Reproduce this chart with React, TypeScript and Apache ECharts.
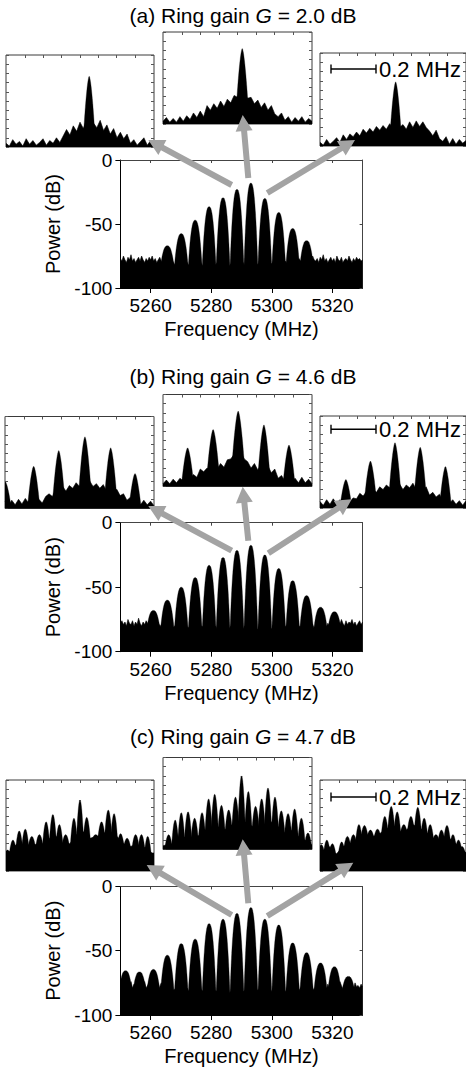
import React, { useEffect, useRef } from "react";
import * as echarts from "echarts";

// ---------- main spectra (frequency grid 5250 .. 5330 MHz, step 0.5 MHz) ----------
const FREQ_MIN = 5250;
const FREQ_MAX = 5330;
const FREQ_STEP = 0.5;
const FREQ_TICKS = [5260, 5280, 5300, 5320];

const FLOOR_A = [
  -77, -79, -75, -78, -80, -76, -78, -74, -79, -77, -80, -78, -76, -79, -75, -78, -80, -77, -79, -76,
  -78, -75, -79, -77, -80, -78, -76, -79, -81, -78, -80, -77, -79, -81, -78, -80, -82, -79, -81, -80,
  -82, -80, -81, -83, -80, -82, -81, -83, -80, -82, -81, -83, -82, -80, -83, -81, -82, -80, -83, -81,
  -82, -83, -81, -82, -80, -83, -82, -81, -83, -82, -80, -82, -83, -81, -82, -83, -80, -82, -81, -83,
  -82, -80, -83, -81, -82, -83, -81, -82, -80, -83, -82, -81, -83, -82, -80, -82, -81, -83, -82, -80,
  -81, -83, -82, -80, -82, -81, -83, -80, -82, -79, -81, -80, -78, -80, -79, -81, -78, -80, -77, -79,
  -78, -80, -77, -79, -76, -78, -80, -75, -78, -79, -77, -80, -76, -78, -74, -79, -77, -80, -78, -76,
  -79, -77, -80, -75, -78, -79, -76, -80, -78, -77, -79, -75, -78, -80, -77, -79, -76, -78, -77, -79,
  -78,
];
const FLOOR_B = [
  -78, -76, -79, -77, -80, -75, -78, -79, -76, -80, -77, -79, -74, -78, -80, -77, -79, -76, -78, -80,
  -77, -79, -81, -78, -80, -82, -79, -81, -80, -82, -81, -79, -82, -80, -83, -81, -80, -82, -81, -83,
  -81, -83, -82, -80, -82, -81, -83, -82, -80, -83, -81, -82, -83, -81, -80, -82, -83, -81, -82, -80,
  -83, -81, -82, -80, -83, -82, -81, -83, -80, -82, -81, -83, -82, -80, -81, -83, -82, -81, -80, -82,
  -81, -83, -80, -82, -83, -81, -82, -80, -83, -81, -82, -83, -80, -82, -81, -83, -82, -80, -81, -83,
  -82, -80, -83, -81, -82, -80, -83, -82, -81, -80, -82, -81, -83, -80, -82, -81, -79, -82, -80, -81,
  -82, -80, -83, -81, -82, -80, -81, -79, -82, -80, -78, -81, -79, -80, -77, -79, -81, -78, -80, -77,
  -79, -76, -80, -78, -77, -79, -75, -78, -80, -76, -79, -77, -78, -75, -79, -77, -80, -78, -76, -79,
  -77,
];
const FLOOR_C = [
  -76, -79, -73, -78, -75, -80, -77, -74, -79, -76, -78, -72, -77, -80, -75, -78, -74, -79, -77, -75,
  -78, -80, -76, -79, -77, -81, -78, -75, -80, -79, -81, -78, -80, -82, -79, -81, -80, -78, -82, -80,
  -81, -83, -80, -82, -79, -81, -83, -80, -82, -81, -79, -82, -83, -80, -81, -82, -80, -83, -81, -79,
  -82, -80, -83, -81, -82, -79, -81, -83, -80, -82, -81, -80, -83, -82, -79, -81, -82, -80, -83, -81,
  -80, -82, -81, -83, -79, -82, -80, -81, -83, -82, -80, -81, -82, -79, -83, -81, -80, -82, -81, -83,
  -81, -79, -82, -80, -83, -81, -82, -80, -79, -82, -81, -80, -78, -81, -79, -82, -80, -78, -81, -79,
  -80, -82, -79, -81, -78, -80, -77, -79, -81, -78, -76, -80, -77, -79, -75, -78, -80, -76, -79, -77,
  -75, -78, -80, -76, -79, -74, -77, -80, -76, -78, -73, -77, -79, -76, -80, -75, -78, -77, -79, -76,
  -78,
];

// comb lines (centre frequency, MHz; peak power, dB)
const COMB_A_FREQ = [5265.5, 5270.1, 5274.7, 5279.3, 5283.9, 5288.5, 5293.1, 5297.7, 5302.3, 5306.9, 5311.5];
const COMB_A_DB = [-67, -57.5, -47, -36.5, -29.5, -23, -18, -30, -41, -53.5, -63];
const COMB_B_FREQ = [5260.9, 5265.5, 5270.1, 5274.7, 5279.3, 5283.9, 5288.5, 5293.1, 5297.7, 5302.3, 5306.9, 5311.5, 5316.1, 5320.7];
const COMB_B_DB = [-68, -60, -50, -42.5, -33, -27, -21.5, -17.5, -25, -35.5, -45, -56.5, -65.5, -69];
const COMB_C_FREQ = [5251.7, 5256.3, 5260.9, 5265.5, 5270.1, 5274.7, 5279.3, 5283.9, 5288.5, 5293.1, 5297.7, 5302.3, 5306.9, 5311.5, 5316.1, 5320.7, 5325.3];
const COMB_C_DB = [-65.5, -66.5, -64.5, -53.5, -44.5, -41, -29, -25.5, -21, -16.5, -25.5, -30, -44, -51.5, -59.5, -62.5, -70];

// ---------- insets (offset grid -0.33 .. 0.33 MHz, step 0.015 MHz; relative dB) ----------
const OFF_MIN = -0.33;
const OFF_MAX = 0.33;
const OFF_STEP = 0.015;
const OFF_TICKS = [-0.245, -0.163, -0.082, 0, 0.082, 0.163, 0.245];

const A_L_SKIRT = [-48, -49.5, -46, -48.5, -47, -49.5, -45.5, -48.5, -46.5, -49, -47.5, -45.5, -49, -46.5, -48, -45, -47.5, -44, -40.5, -43.5, -38.5, -41.5, -36.5, -40, -35, -34, -37, -39.5, -35.5, -41, -38, -43, -40, -45, -42, -45.5, -43, -48, -46, -49, -47, -45, -49, -46.5, -48];
const A_L_PEAK_OFF = [0.041];
const A_L_PEAK_DB = [-11.5];
const A_M_SKIRT = [-48.5, -46.5, -49, -47, -49, -46, -48.5, -45.5, -47.5, -44, -46.5, -43, -46, -40, -42.5, -39, -41.5, -37.5, -40.5, -36.5, -38.5, -34.5, -35.5, -33, -34, -36, -35.5, -39, -37, -41, -38.5, -42.5, -40, -44.5, -46, -44, -48, -46, -49, -46.5, -48.5, -46, -49, -47, -48.5];
const A_M_PEAK_OFF = [0.021];
const A_M_PEAK_DB = [-9];
const A_R_SKIRT = [-48, -49.5, -46.5, -49, -47.5, -45.5, -48, -44, -46.5, -43.5, -45, -42.5, -44.5, -41, -43, -40.5, -42.5, -39.5, -41.5, -39, -41, -38, -40.5, -37.5, -40, -38.5, -41, -37, -40, -36.5, -39.5, -37, -40, -42, -44.5, -41.5, -46, -47.5, -45, -49, -46, -49, -46.5, -48.5, -47];
const A_R_PEAK_OFF = [0.012];
const A_R_PEAK_DB = [-15.5];

const B_L_SKIRT = [-46, -48.5, -45.5, -48, -45, -47.5, -44.5, -47, -44.5, -46.5, -45, -47, -43.5, -42, -43.5, -39.5, -41, -38, -40.5, -37.5, -39, -36, -38, -35.5, -37.5, -35, -38, -36.5, -39, -37, -40.5, -38.5, -41.5, -39.5, -43, -42, -45.5, -44, -47, -45, -48, -45.5, -48, -46, -48.5];
const B_L_PEAK_OFF = [-0.329, -0.203, -0.092, 0.024, 0.138, 0.246];
const B_L_PEAK_DB = [-35.5, -27, -18.5, -11, -17, -31];
const B_M_SKIRT = [-48.5, -46.5, -48.5, -46, -48, -45.5, -47, -44, -46, -43.5, -45, -40.5, -42, -40, -41, -38.5, -40.5, -37.5, -39.5, -35.5, -35, -32.5, -34, -31.5, -35, -36.5, -40, -37.5, -41, -38, -41.5, -39, -42.5, -40.5, -45.5, -44, -47, -44.5, -47.5, -45.5, -48, -45, -48, -46, -48.5];
const B_M_PEAK_OFF = [-0.221, -0.108, 0.003, 0.117, 0.228];
const B_M_PEAK_DB = [-29, -19, -9, -16.5, -27.5];
const B_R_SKIRT = [-46.5, -48.5, -45.5, -48, -45, -47.5, -45.5, -48, -45, -46.5, -44.5, -45, -42, -43.5, -41, -42.5, -40, -41.5, -38.5, -40, -37.5, -39, -36.5, -39, -37, -40, -37.5, -39, -36.5, -40, -37.5, -40.5, -38.5, -43, -41.5, -44, -42.5, -46, -44.5, -47.5, -45.5, -48, -46, -48.5, -46];
const B_R_PEAK_OFF = [-0.213, -0.102, 0.009, 0.123, 0.237];
const B_R_PEAK_DB = [-34.5, -24.5, -14.5, -17, -27.5];

const C_L_SKIRT = [-41, -39.5, -37.5, -35.5, -36, -36.5, -36, -35.5, -35.5, -35.5, -35, -35, -33.5, -32, -31.5, -31, -33, -35, -35, -35, -32.5, -30, -29, -28.5, -30, -32, -31.5, -31, -30.5, -29, -29, -28.5, -30, -31, -33, -35, -36, -36.5, -36, -35.5, -36.5, -37, -38, -39.5, -41];
const C_L_PEAK_OFF = [-0.323, -0.299, -0.271, -0.244, -0.215, -0.181, -0.151, -0.121, -0.092, -0.064, -0.027, 0, 0.03, 0.07, 0.096, 0.126, 0.152, 0.181, 0.21, 0.248, 0.274, 0.302, 0.326];
const C_L_PEAK_DB = [-38.5, -33, -28, -27, -31, -30, -23, -19, -24.5, -30, -21, -11, -20.5, -30, -23, -16.5, -18.5, -29.5, -32, -30, -30, -31, -40];
const C_M_SKIRT = [-48, -47.5, -47.5, -46.5, -45.5, -44.5, -43.5, -43, -43, -43.5, -43, -42, -40, -39, -38, -37.5, -37.5, -38.5, -39.5, -38.5, -37, -36, -35, -35, -35, -36, -37, -38, -38.5, -37.5, -36.5, -35.5, -35, -36.5, -37.5, -39.5, -41, -40.5, -39.5, -41.5, -43, -44, -45, -46.5, -47.5];
const C_M_PEAK_OFF = [-0.305, -0.276, -0.249, -0.219, -0.19, -0.157, -0.128, -0.101, -0.071, -0.039, -0.009, 0.018, 0.048, 0.08, 0.107, 0.135, 0.166, 0.194, 0.224, 0.253, 0.283, 0.312];
const C_M_PEAK_DB = [-42, -34, -30, -29.5, -33, -30, -22.5, -20, -26, -28.5, -21.5, -10, -18.5, -26.5, -22.5, -16.5, -21.5, -29, -30.5, -28, -33, -41];
const C_R_SKIRT = [-39, -40.5, -38.5, -36.5, -39.5, -40.5, -38.5, -36.5, -36, -35, -34, -33, -30.5, -29.5, -30, -30.5, -31, -30.5, -29.5, -28, -27, -25.5, -24.5, -26.5, -28.5, -28, -27.5, -26, -24.5, -25.5, -26.5, -27.5, -28.5, -30.5, -32, -32.5, -33, -32.5, -32, -32, -33.5, -35, -37, -38.5, -40];
const C_R_PEAK_OFF = [-0.324, -0.299, -0.274, -0.232, -0.206, -0.179, -0.154, -0.129, -0.102, -0.07, -0.037, -0.008, 0.019, 0.049, 0.081, 0.112, 0.141, 0.168, 0.194, 0.219, 0.244, 0.271, 0.296, 0.312];
const C_R_PEAK_DB = [-35.5, -33, -35, -34, -31, -30, -24.5, -25, -27.5, -27, -20, -14.5, -17.5, -24.5, -20, -15, -21, -24.5, -30, -27.5, -25, -30, -33, -36.5];

const TITLES = ["(a) Ring gain ", "(b) Ring gain ", "(c) Ring gain "];
const GAINS = ["2.0", "4.6", "4.7"];

// ---------- layout & style ----------
const FONT = "'Liberation Sans', Arial, Helvetica, sans-serif";
const ARROW_COLOR = "#a3a3a3";
const MAIN_SHAPE = { hw: 2.3, p: 2.5, base: -84 };

const PANELS = [
  {
    titleY: 15,
    main: { left: 120.4, top: 160, width: 242.2, height: 128 },
    floor: FLOOR_A, combF: COMB_A_FREQ, combDb: COMB_A_DB,
    shape: { hw: 0.024, p: 1.6 },
    insets: [
      { left: 6, top: 55, width: 148, height: 92, skirt: A_L_SKIRT, off: A_L_PEAK_OFF, db: A_L_PEAK_DB },
      { left: 163, top: 32, width: 149, height: 92, skirt: A_M_SKIRT, off: A_M_PEAK_OFF, db: A_M_PEAK_DB },
      { left: 320, top: 53, width: 148, height: 93, skirt: A_R_SKIRT, off: A_R_PEAK_OFF, db: A_R_PEAK_DB },
    ],
    arrows: [
      [[231.7, 185], [148.3, 140]],
      [[248.3, 178], [242.7, 115]],
      [[267.3, 193], [355, 140]],
    ],
    barY: 69,
  },
  {
    titleY: 376.5,
    main: { left: 120.4, top: 522.7, width: 242.2, height: 129 },
    floor: FLOOR_B, combF: COMB_B_FREQ, combDb: COMB_B_DB,
    shape: { hw: 0.026, p: 1.6 },
    insets: [
      { left: 5, top: 416.5, width: 149, height: 92, skirt: B_L_SKIRT, off: B_L_PEAK_OFF, db: B_L_PEAK_DB },
      { left: 163, top: 394.5, width: 149, height: 92, skirt: B_M_SKIRT, off: B_M_PEAK_OFF, db: B_M_PEAK_DB },
      { left: 320, top: 416, width: 148, height: 92, skirt: B_R_SKIRT, off: B_R_PEAK_OFF, db: B_R_PEAK_DB },
    ],
    arrows: [
      [[231.7, 550.7], [148.3, 506]],
      [[248.3, 540.7], [242.7, 486.7]],
      [[268.3, 553.3], [351.7, 499.3]],
    ],
    barY: 429.3,
  },
  {
    titleY: 736,
    main: { left: 120.4, top: 886.4, width: 242.2, height: 128.6 },
    floor: FLOOR_C, combF: COMB_C_FREQ, combDb: COMB_C_DB,
    shape: { hw: 0.016, p: 2 },
    insets: [
      { left: 6, top: 780, width: 148, height: 91, skirt: C_L_SKIRT, off: C_L_PEAK_OFF, db: C_L_PEAK_DB },
      { left: 163, top: 757.5, width: 149, height: 92, skirt: C_M_SKIRT, off: C_M_PEAK_OFF, db: C_M_PEAK_DB },
      { left: 320, top: 780, width: 148, height: 91, skirt: C_R_SKIRT, off: C_R_PEAK_OFF, db: C_R_PEAK_DB },
    ],
    arrows: [
      [[231.7, 915], [146.7, 865]],
      [[248.3, 903.3], [242.7, 839.3]],
      [[267.3, 916], [353.3, 862.7]],
    ],
    barY: 797,
  },
];

function peakRenderer(hw: number, p: number) {
  const N = 24;
  return (_params: any, api: any) => {
    const c = api.value(0);
    const top = api.value(1);
    const base = api.value(2);
    const pts: number[][] = [];
    for (let i = 0; i <= N; i++) {
      const t = -1 + (2 * i) / N;
      const y = base + (top - base) * (1 - Math.pow(Math.abs(t), p));
      pts.push(api.coord([c + t * hw, y]));
    }
    return {
      type: "polygon",
      shape: { points: pts },
      style: { fill: "#000", stroke: "#000", lineWidth: 0.3 },
    };
  };
}

function skirtMin(skirt: number[], lo: number, hi: number) {
  let i0 = Math.floor((lo - OFF_MIN) / OFF_STEP);
  let i1 = Math.ceil((hi - OFF_MIN) / OFF_STEP);
  i0 = Math.max(0, i0);
  i1 = Math.min(skirt.length - 1, i1);
  let m = Infinity;
  for (let i = i0; i <= i1; i++) m = Math.min(m, skirt[i]);
  return m;
}

function arrowPoints(tail: number[], tip: number[]) {
  const dx = tip[0] - tail[0];
  const dy = tip[1] - tail[1];
  const L = Math.hypot(dx, dy);
  const ux = dx / L, uy = dy / L;
  const nx = -uy, ny = ux;
  const HL = 16, HW = 8.5, SW = 3;
  const nk = [tip[0] - ux * HL, tip[1] - uy * HL];
  return [
    [tail[0] + nx * SW, tail[1] + ny * SW],
    [nk[0] + nx * SW, nk[1] + ny * SW],
    [nk[0] + nx * HW, nk[1] + ny * HW],
    [tip[0], tip[1]],
    [nk[0] - nx * HW, nk[1] - ny * HW],
    [nk[0] - nx * SW, nk[1] - ny * SW],
    [tail[0] - nx * SW, tail[1] - ny * SW],
  ];
}

function buildOption() {
  const grids: any[] = [];
  const xAxes: any[] = [];
  const yAxes: any[] = [];
  const series: any[] = [];
  const graphics: any[] = [];

  PANELS.forEach((panel, pi) => {
    // ----- main plot -----
    const g = grids.length;
    grids.push({ ...panel.main, containLabel: false, show: false });
    const xi = xAxes.length;
    xAxes.push({
      gridIndex: g, type: "value", min: FREQ_MIN, max: FREQ_MAX, position: "bottom",
      axisLine: { show: true, onZero: false, lineStyle: { color: "#000", width: 1 } },
      axisTick: { show: true, inside: false, length: 5, customValues: FREQ_TICKS, lineStyle: { color: "#000" } },
      axisLabel: {
        show: true, customValues: FREQ_TICKS, fontSize: 19, color: "#000", fontFamily: FONT, margin: 8,
        formatter: (v: number) => String(v),
      },
      splitLine: { show: false },
      name: "Frequency (MHz)", nameLocation: "middle", nameGap: 31,
      nameTextStyle: { fontSize: 20, color: "#000", fontFamily: FONT },
    });
    xAxes.push({
      gridIndex: g, type: "value", min: FREQ_MIN, max: FREQ_MAX, position: "top",
      axisLine: { show: true, onZero: false, lineStyle: { color: "#444", width: 1 } },
      axisTick: { show: true, inside: true, length: 3, customValues: FREQ_TICKS, lineStyle: { color: "#444" } },
      axisLabel: { show: false }, splitLine: { show: false },
    });
    const yi = yAxes.length;
    yAxes.push({
      gridIndex: g, type: "value", min: -100, max: 0, interval: 50, position: "left",
      axisLine: { show: true, onZero: false, lineStyle: { color: "#000", width: 1 } },
      axisTick: { show: true, inside: false, length: 5, lineStyle: { color: "#000" } },
      axisLabel: { show: true, fontSize: 19, color: "#000", fontFamily: FONT, margin: 8 },
      splitLine: { show: false },
      name: "Power (dB)", nameLocation: "middle", nameGap: 56, nameRotate: 90,
      nameTextStyle: { fontSize: 20, color: "#000", fontFamily: FONT },
    });
    yAxes.push({
      gridIndex: g, type: "value", min: -100, max: 0, interval: 50, position: "right",
      axisLine: { show: true, onZero: false, lineStyle: { color: "#444", width: 1 } },
      axisTick: { show: true, inside: true, length: 3, lineStyle: { color: "#444" } },
      axisLabel: { show: false }, splitLine: { show: false },
    });
    series.push({
      type: "line", xAxisIndex: xi, yAxisIndex: yi, silent: true,
      data: panel.floor.map((v, i) => [FREQ_MIN + i * FREQ_STEP, v]),
      showSymbol: false, symbol: "none",
      lineStyle: { color: "#000", width: 0.6 },
      areaStyle: { color: "#000", opacity: 1, origin: "start" },
      z: 2,
    });
    series.push({
      type: "custom", xAxisIndex: xi, yAxisIndex: yi, silent: true, clip: true,
      encode: { x: 0, y: 1 },
      data: panel.combF.map((f, i) => [f, panel.combDb[i], MAIN_SHAPE.base]),
      renderItem: peakRenderer(MAIN_SHAPE.hw, MAIN_SHAPE.p),
      z: 3,
    });

    // ----- insets -----
    panel.insets.forEach((ins) => {
      const gi = grids.length;
      grids.push({
        left: ins.left, top: ins.top, width: ins.width, height: ins.height, containLabel: false,
        show: true, borderColor: "#3a3a3a", borderWidth: 1, backgroundColor: "#fff",
      });
      const ixi = xAxes.length;
      xAxes.push({
        gridIndex: gi, type: "value", min: OFF_MIN, max: OFF_MAX, position: "top",
        axisLine: { show: false, onZero: false },
        axisTick: { show: true, inside: true, length: 3, customValues: OFF_TICKS, lineStyle: { color: "#555" } },
        axisLabel: { show: false }, splitLine: { show: false },
      });
      const iyi = yAxes.length;
      yAxes.push({
        gridIndex: gi, type: "value", min: -50, max: 0, interval: 5, position: "left",
        axisLine: { show: false, onZero: false },
        axisTick: { show: true, inside: true, length: 3, lineStyle: { color: "#555" } },
        axisLabel: { show: false }, splitLine: { show: false },
      });
      yAxes.push({
        gridIndex: gi, type: "value", min: -50, max: 0, interval: 5, position: "right",
        axisLine: { show: false, onZero: false },
        axisTick: { show: true, inside: true, length: 3, lineStyle: { color: "#555" } },
        axisLabel: { show: false }, splitLine: { show: false },
      });
      series.push({
        type: "line", xAxisIndex: ixi, yAxisIndex: iyi, silent: true,
        data: ins.skirt.map((v, i) => [OFF_MIN + i * OFF_STEP, v]),
        showSymbol: false, symbol: "none",
        lineStyle: { color: "#000", width: 0.6 },
        areaStyle: { color: "#000", opacity: 1, origin: "start" },
        z: 2,
      });
      const hw = panel.shape.hw;
      series.push({
        type: "custom", xAxisIndex: ixi, yAxisIndex: iyi, silent: true, clip: true,
        encode: { x: 0, y: 1 },
        data: ins.off.map((o, i) => [o, ins.db[i], skirtMin(ins.skirt, o - hw, o + hw) - 0.5]),
        renderItem: peakRenderer(hw, panel.shape.p),
        z: 3,
      });
    });

    // ----- title -----
    graphics.push({
      type: "text", x: 243, y: panel.titleY, z: 100, silent: true,
      style: {
        text: `{n|${TITLES[pi]}}{i|G}{n| = ${GAINS[pi]} dB}`,
        rich: {
          n: { fontSize: 21, fontFamily: FONT, fill: "#000" },
          i: { fontSize: 21, fontFamily: FONT, fontStyle: "italic", fill: "#000" },
        },
        align: "center", verticalAlign: "middle",
      },
    });

    // ----- arrows -----
    panel.arrows.forEach((a) => {
      graphics.push({
        type: "polygon", z: 100, silent: true,
        shape: { points: arrowPoints(a[0], a[1]) },
        style: { fill: ARROW_COLOR },
      });
    });

    // ----- scale bar (0.2 MHz) -----
    const y = panel.barY;
    graphics.push({ type: "line", z: 100, silent: true, shape: { x1: 331, y1: y, x2: 376, y2: y }, style: { stroke: "#000", lineWidth: 1.6 } });
    graphics.push({ type: "line", z: 100, silent: true, shape: { x1: 331, y1: y - 4.5, x2: 331, y2: y + 4.5 }, style: { stroke: "#000", lineWidth: 1.4 } });
    graphics.push({ type: "line", z: 100, silent: true, shape: { x1: 376, y1: y - 4.5, x2: 376, y2: y + 4.5 }, style: { stroke: "#000", lineWidth: 1.4 } });
    graphics.push({
      type: "text", x: 379, y, z: 100, silent: true,
      style: { text: "0.2 MHz", fontSize: 22, fontFamily: FONT, fill: "#000", align: "left", verticalAlign: "middle" },
    });
  });

  return {
    animation: false,
    backgroundColor: "#fff",
    grid: grids,
    xAxis: xAxes,
    yAxis: yAxes,
    series,
    graphic: { elements: graphics },
  };
}

export default function App() {
  const ref = useRef<HTMLDivElement>(null);
  useEffect(() => {
    if (!ref.current) return;
    const chart = echarts.init(ref.current, undefined, { renderer: "svg" });
    chart.setOption(buildOption() as any);
    return () => chart.dispose();
  }, []);
  return (
    <div
      ref={ref}
      style={{ position: "fixed", left: 0, top: 0, width: 466, height: 1069, background: "#fff" }}
    />
  );
}
